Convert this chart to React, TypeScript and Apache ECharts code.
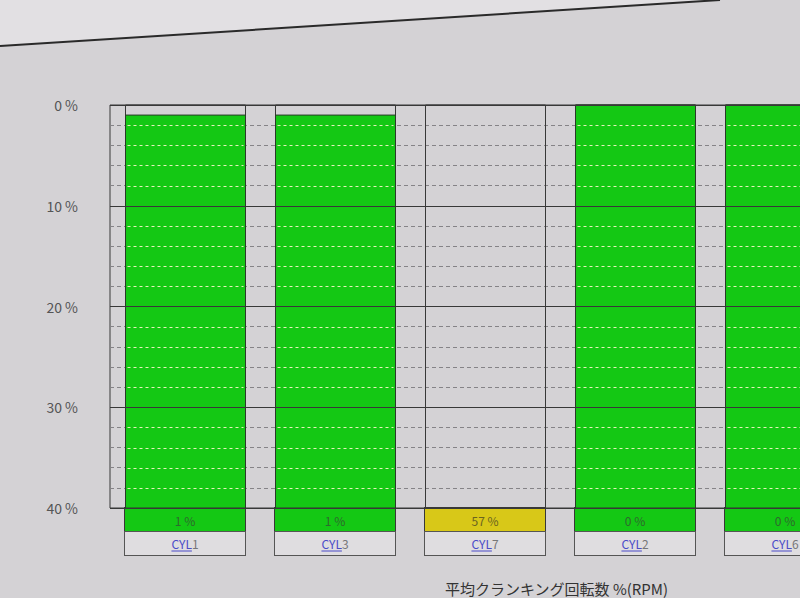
import React, { useEffect, useRef } from "react";
import * as echarts from "echarts";

// ---- data ----
const categories = ["CYL1", "CYL3", "CYL7", "CYL2", "CYL6"];
const namePrefix = "CYL";
const values = [1, 1, 57, 0, 0]; // % shown in the boxes under each column
const yTickLabels = ["0 %", "10 %", "20 %", "30 %", "40 %"];
const axisTitle = "平均クランキング回転数 %(RPM)";

// ---- scale ----
const Y_MIN = 0;
const Y_MAX = 40;
const Y_STEP = 10;
const MINOR_STEP = 2;

// ---- style ----
const FONT = "Noto Sans CJK JP";
const BG = "#d4d2d5";
const GREEN = "#14c814";
const YELLOW = "#d8c818";
const DARK = "#383838";
const BAR_RATIO = 0.8;

const GRID = { left: 110, top: 105, width: 750, height: 403 };
const VALUE_BOX_H = 24;
const NAME_BOX_H = 23;

export default function App() {
  const ref = useRef<HTMLDivElement>(null);

  useEffect(() => {
    if (!ref.current) return;
    const chart = echarts.init(ref.current, null, { renderer: "svg" });

    const renderItem = (params: any, api: any) => {
      const i = api.value(0);
      const v = api.value(1);
      const top = Math.min(Math.max(v, Y_MIN), Y_MAX);
      const pTop = api.coord([i, top]);
      const pMin = api.coord([i, Y_MIN]);
      const pMax = api.coord([i, Y_MAX]);
      const w = api.size([1, 0])[0] * BAR_RATIO;
      const x = Math.round(pTop[0] - w / 2) + 0.5;
      const children: any[] = [
        {
          type: "rect",
          shape: { x, y: pMin[1], width: w, height: pMax[1] - pMin[1] },
          style: { fill: "none", stroke: DARK, lineWidth: 1 },
        },
      ];
      if (pMax[1] - pTop[1] > 0) {
        children.push({
          type: "rect",
          shape: { x, y: pTop[1], width: w, height: pMax[1] - pTop[1] },
          style: { fill: GREEN, stroke: "#2a3a2a", lineWidth: 1 },
        });
        for (let t = Y_MIN + MINOR_STEP; t < Y_MAX; t += MINOR_STEP) {
          if (t % Y_STEP === 0 || t <= top) continue;
          const y = Math.round(api.coord([i, t])[1]) + 0.5;
          children.push({
            type: "line",
            shape: { x1: x + 2, y1: y, x2: x + w - 2, y2: y },
            style: { stroke: "#e4f2b8", lineWidth: 1, lineDash: [3, 3] },
          });
        }
      }
      return { type: "group", children };
    };

    const yBase = {
      type: "value",
      inverse: true,
      min: Y_MIN,
      max: Y_MAX,
      interval: Y_STEP,
      axisLine: { show: false },
      axisTick: { show: false },
    };

    chart.setOption({
      animation: false,
      backgroundColor: BG,
      textStyle: { fontFamily: FONT },
      title: {
        text: axisTitle,
        left: 440,
        top: 576,
        textStyle: { fontFamily: FONT, fontSize: 15, fontWeight: "normal", color: "#333" },
      },
      grid: {
        ...GRID,
        outerBoundsMode: "none",
        containLabel: false,
        show: true,
        backgroundColor: "transparent",
        borderColor: DARK,
        borderWidth: 1,
      },
      xAxis: [
        {
          type: "category",
          data: categories,
          position: "bottom",
          axisLine: { show: false },
          axisTick: { show: false },
          splitLine: { show: false },
          axisLabel: {
            interval: 0,
            margin: 0,
            formatter: (_: string, idx: number) =>
              `{${values[idx] > Y_MAX ? "y" : "g"}|${values[idx]} %}`,
            rich: {
              g: {
                width: 120,
                height: VALUE_BOX_H,
                lineHeight: VALUE_BOX_H,
                backgroundColor: GREEN,
                borderColor: DARK,
                borderWidth: 1,
                color: "#2e6a2e",
                fontSize: 12,
                fontFamily: FONT,
                align: "center",
              },
              y: {
                width: 120,
                height: VALUE_BOX_H,
                lineHeight: VALUE_BOX_H,
                backgroundColor: YELLOW,
                borderColor: DARK,
                borderWidth: 1,
                color: "#6b6420",
                fontSize: 12,
                fontFamily: FONT,
                align: "center",
              },
            },
          },
        },
        {
          type: "category",
          data: categories,
          position: "bottom",
          offset: VALUE_BOX_H,
          axisLine: { show: false },
          axisTick: { show: false },
          splitLine: { show: false },
          axisLabel: {
            interval: 0,
            margin: 0,
            width: 120,
            height: NAME_BOX_H,
            lineHeight: NAME_BOX_H,
            backgroundColor: "#dfdde0",
            borderColor: "#555",
            borderWidth: 1,
            formatter: (val: string) =>
              `{c|${namePrefix}}{n|${val.slice(namePrefix.length)}}`,
            rich: {
              c: { color: "#4b4bc8", fontSize: 12, fontFamily: FONT, lineHeight: NAME_BOX_H },
              n: { color: "#777", fontSize: 12, fontFamily: FONT, lineHeight: NAME_BOX_H },
            },
          },
        },
      ],
      yAxis: [
        {
          ...yBase,
          z: 0,
          axisLabel: {
            margin: 32,
            color: "#555",
            fontSize: 14,
            fontFamily: FONT,
            formatter: (v: number) => yTickLabels[Math.round((v - Y_MIN) / Y_STEP)] ?? `${v} %`,
          },
          splitLine: { show: false },
          minorTick: { show: false, splitNumber: Y_STEP / MINOR_STEP },
          minorSplitLine: { show: true, lineStyle: { color: "#858387", type: [4, 3], width: 1 } },
        },
        {
          ...yBase,
          z: 5,
          axisLabel: { show: false },
          splitLine: { show: true, lineStyle: { color: DARK, width: 1 } },
          minorSplitLine: { show: false },
        },
      ],
      series: [
        {
          type: "custom",
          xAxisIndex: 0,
          yAxisIndex: 0,
          z: 2,
          renderItem,
          data: values.map((v, i) => [i, v]),
        },
      ],
    });

    // window frame decoration + underline under "CYL"
    const ctx = document.createElement("canvas").getContext("2d");
    let prefixW = 24;
    let fullW: number[] = categories.map(() => 32);
    if (ctx) {
      ctx.font = `12px "${FONT}"`;
      prefixW = ctx.measureText(namePrefix).width;
      fullW = categories.map((c) => ctx.measureText(c).width);
    }
    const nameBoxTop = GRID.top + GRID.height + VALUE_BOX_H;
    const underlineY = nameBoxTop + NAME_BOX_H / 2 + 7.5;
    const underlines = categories.map((c, i) => {
      const cx = chart.convertToPixel({ xAxisIndex: 1 }, c) as unknown as number;
      const x1 = cx - fullW[i] / 2;
      return {
        type: "line",
        silent: true,
        shape: { x1, y1: underlineY, x2: x1 + prefixW, y2: underlineY },
        style: { stroke: "#4b4bc8", lineWidth: 1 },
        z: 10,
      };
    });

    chart.setOption({
      graphic: [
        {
          type: "polygon",
          silent: true,
          shape: { points: [[0, 0], [720, 0], [0, 46]] },
          style: { fill: "#e2e0e3" },
          z: -1,
        },
        {
          type: "line",
          silent: true,
          shape: { x1: 0, y1: 46, x2: 720, y2: 0 },
          style: { stroke: "#2a2a2a", lineWidth: 2 },
        },
        ...underlines,
      ],
    });

    return () => chart.dispose();
  }, []);

  return (
    <div
      ref={ref}
      style={{ position: "fixed", left: 0, top: 0, width: 800, height: 598 }}
    />
  );
}
